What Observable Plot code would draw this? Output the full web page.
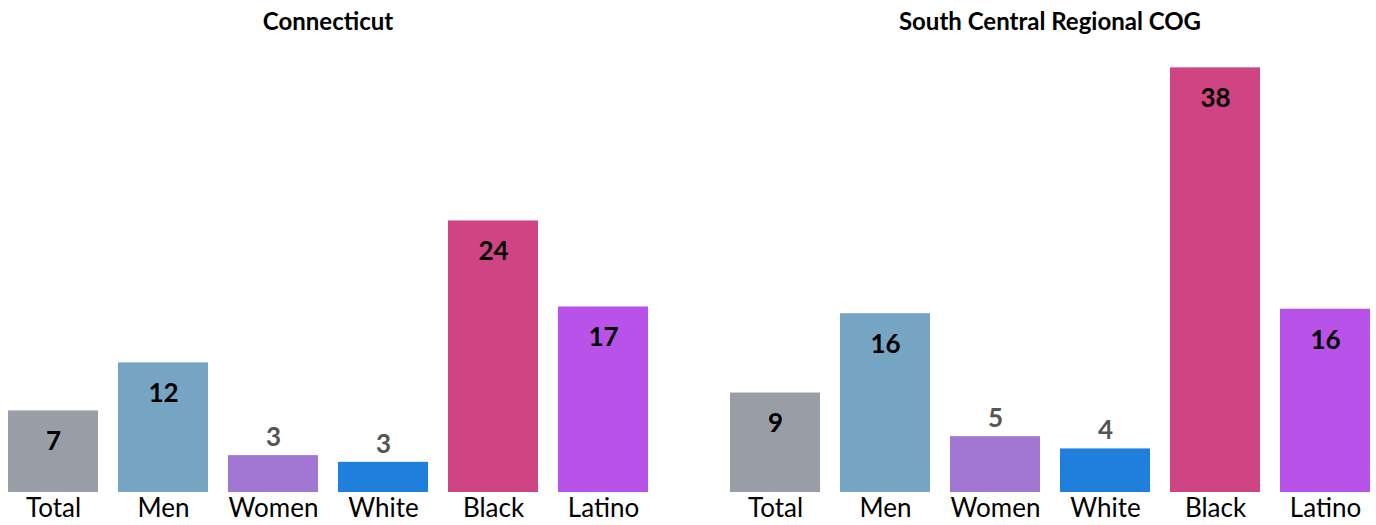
<!DOCTYPE html>
<html><head><meta charset="utf-8">
<script src="https://cdn.jsdelivr.net/npm/d3@7"></script>
<script src="https://cdn.jsdelivr.net/npm/@observablehq/plot@0.6"></script>
<style>body{margin:0;background:#fff;}</style>
</head><body><div id="chart"></div>
<script>
const regions = ["Connecticut", "South Central Regional COG"];
const categories = ["Total", "Men", "Women", "White", "Black", "Latino"];
const connecticutValues = [7.3, 11.6, 3.3, 2.7, 24.3, 16.6];
const southCentralValues = [8.9, 16.0, 5.0, 3.9, 38.0, 16.4];
const barColors = ["#999ea6", "#75a5c2", "#a277d4", "#1f7fdc", "#cf4483", "#b852e8"];

const data = [];
regions.forEach((r, i) => {
  const vals = i === 0 ? connecticutValues : southCentralValues;
  categories.forEach((c, j) => data.push({region: r, category: c, value: vals[j]}));
});
const inside = d => d.value >= 6;
const fmt = d3.format(".0f");

const plot = Plot.plot({
  width: 1376, height: 525,
  marginTop: 45, marginBottom: 33, marginLeft: 1, marginRight: 0,
  style: {fontFamily: "Lato, sans-serif", background: "#fff"},
  fx: {domain: regions, paddingInner: 0.096, paddingOuter: 0, axis: null},
  x: {domain: categories, paddingInner: 0.184, paddingOuter: 0.057, axis: null},
  y: {domain: [0, 40], axis: null},
  color: {domain: categories, range: barColors},
  marks: [
    Plot.barY(data, {fx: "region", x: "category", y: "value", fill: "category"}),
    Plot.text(data.filter(inside), {fx: "region", x: "category", y: "value", text: d => fmt(d.value),
      dy: 31, fontWeight: "bold", fontSize: 26, fill: "#000"}),
    Plot.text(data.filter(d => !inside(d)), {fx: "region", x: "category", y: "value", text: d => fmt(d.value),
      dy: -18, fontWeight: "bold", fontSize: 26, fill: "#555"}),
    Plot.text(regions, {fx: d => d, text: d => d, frameAnchor: "top", dy: -33, fontWeight: "bold", fontSize: 24, fill: "#000"}),
    Plot.axisX({tickSize: 0, tickPadding: 6, fontSize: 26, label: null, fill: "#000"})
  ]
});
document.getElementById("chart").appendChild(plot);
</script>
</body></html>
